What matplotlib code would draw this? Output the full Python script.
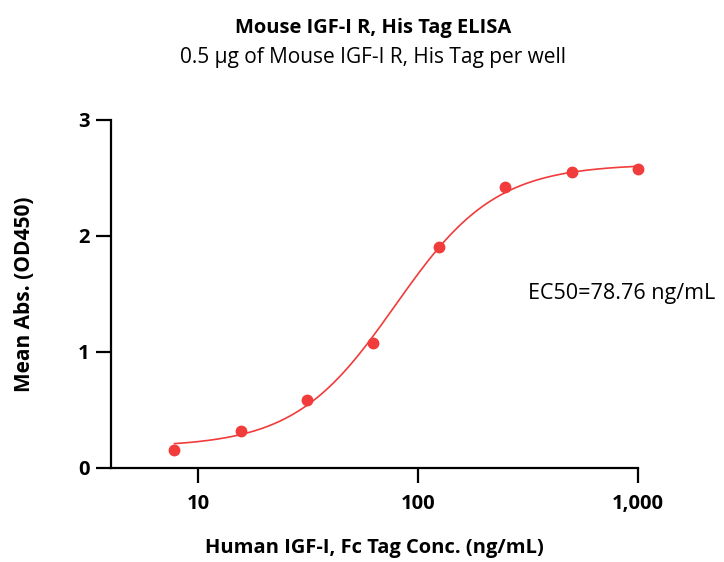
import numpy as np
import matplotlib
matplotlib.use("Agg")
import matplotlib.pyplot as plt
from matplotlib.ticker import FixedLocator, FixedFormatter, NullLocator

plt.rcParams['font.family'] = ['Open Sans', 'DejaVu Sans']

# Data
conc = [7.8125, 15.625, 31.25, 62.5, 125, 250, 500, 1000]
od450 = [0.155, 0.32, 0.59, 1.08, 1.905, 2.42, 2.55, 2.575]
ec50 = 78.76
xticks = [10, 100, 1000]
xticklabels = ["10", "100", "1,000"]
yticks = [0, 1, 2, 3]
yticklabels = ["0", "1", "2", "3"]

title = "Mouse IGF-I R, His Tag ELISA"
subtitle = "0.5 µg of Mouse IGF-I R, His Tag per well"
xlabel = "Human IGF-I, Fc Tag Conc. (ng/mL)"
ylabel = "Mean Abs. (OD450)"
ec50_text = "EC50=78.76 ng/mL"

# 4PL fit (EC50 fixed) via grid search
x = np.array(conc)
y = np.array(od450)

def fpl(xx, b, t, h):
    return b + (t - b) / (1 + (ec50 / xx) ** h)

best = None
for b in np.linspace(0.0, 0.3, 31):
    for t in np.linspace(2.4, 2.9, 51):
        for h in np.linspace(1.0, 2.2, 61):
            err = np.sum((fpl(x, b, t, h) - y) ** 2)
            if best is None or err < best[0]:
                best = (err, b, t, h)
_, B, T, H = best

fig = plt.figure(figsize=(7.24, 5.62), dpi=100)
ax = fig.add_axes([0.1533, 0.1673, 0.881 - 0.1533, 0.7865 - 0.1673])

red = "#f23b3b"
xs = np.logspace(np.log10(conc[0]), np.log10(conc[-1]), 300)
ax.plot(xs, fpl(xs, B, T, H), color=red, lw=1.2, zorder=2)
ax.plot(conc, od450, 'o', color=red, ms=7.5, mec=red, zorder=3, clip_on=False)

ax.set_xscale('log')
ax.set_xlim(4.02, 1000)
ax.set_ylim(0, 3)
ax.xaxis.set_major_locator(FixedLocator(xticks))
ax.xaxis.set_major_formatter(FixedFormatter(xticklabels))
ax.xaxis.set_minor_locator(NullLocator())
ax.set_yticks(yticks)
ax.set_yticklabels(yticklabels)

for s in ['top', 'right']:
    ax.spines[s].set_visible(False)
for s in ['left', 'bottom']:
    ax.spines[s].set_linewidth(1.6)
    ax.spines[s].set_color('black')
ax.tick_params(axis='both', which='major', direction='out', length=10.5, width=1.6,
               labelsize=14.5, colors='black')
ax.tick_params(axis='x', pad=8.5)
ax.tick_params(axis='y', pad=5)
for lbl in ax.get_xticklabels() + ax.get_yticklabels():
    lbl.set_fontweight('bold')

ax.set_xlabel(xlabel, fontsize=14.5, fontweight='bold', labelpad=17)
ax.set_ylabel(ylabel, fontsize=15, fontweight='bold', labelpad=31)

fig.text(0.515, 1 - 28 / 562, title, ha='center', va='center', fontsize=14.5, fontweight='bold')
fig.text(0.515, 1 - 57 / 562, subtitle, ha='center', va='center', fontsize=15)
fig.text(528 / 724, 1 - 293 / 562, ec50_text, ha='left', va='center', fontsize=15.5)

fig.savefig("out.png", dpi=100)
